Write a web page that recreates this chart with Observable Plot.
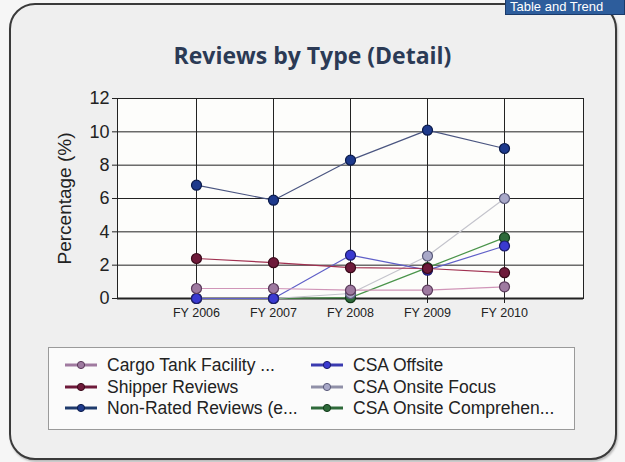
<!DOCTYPE html>
<html>
<head>
<meta charset="utf-8">
<script src="https://cdn.jsdelivr.net/npm/d3@7"></script>
<script src="https://cdn.jsdelivr.net/npm/@observablehq/plot@0.6"></script>
<style>
  html, body { margin: 0; padding: 0; background: #f6f6f6; }
  body { width: 625px; height: 462px; position: relative; overflow: hidden; font-family: "Liberation Sans", Arial, sans-serif; }
  #panel { position: absolute; left: 9px; top: 3px; width: 604px; height: 453px; border: 2px solid #3a3a3a; border-radius: 26px; background: #efefef; box-shadow: 1px 2px 2px #bbb; }
  #tab { position: absolute; left: 505px; top: 0px; width: 114px; height: 14px; background: #2d5d9c; border: 1px solid #1a3a6a; border-top: none; color: #fff; font-size: 13px; line-height: 14px; padding-left: 4px; white-space: nowrap; overflow: hidden; }
  #title { position: absolute; left: 0; width: 625px; top: 39px; text-align: center; font-family: "Open Sans", "DejaVu Sans", sans-serif; font-weight: bold; font-size: 23px; line-height: 32px; color: #2b3a55; }
  #chart { position: absolute; left: 0; top: 88px; }
  #legend { position: absolute; left: 48px; top: 347px; width: 525px; height: 81px; border: 1px solid #9a9a9a; background: #fbfbfb; }
  .item { position: absolute; height: 20px; font-size: 17.5px; line-height: 20px; color: #222; white-space: nowrap; }
  .item svg { position: absolute; left: 0; top: 4px; }
  .item span { position: absolute; left: 42px; top: 0; }
  g[aria-label="y-axis label"] text { font-size: 19px; }
</style>
</head>
<body>
<div id="panel"></div>
<div id="tab">Table and Trend</div>
<div id="title">Reviews by Type (Detail)</div>
<div id="chart"></div>
<div id="legend"></div>
<script>
// ---- data ----
const years = ["FY 2006", "FY 2007", "FY 2008", "FY 2009", "FY 2010"];
const seriesNames = [
  "Cargo Tank Facility ...",
  "Shipper Reviews",
  "Non-Rated Reviews (e...",
  "CSA Offsite",
  "CSA Onsite Focus",
  "CSA Onsite Comprehen..."
];
const cargoTank      = [0.6, 0.6, 0.5, 0.5, 0.7];
const shipper        = [2.4, 2.15, 1.85, 1.8, 1.55];
const nonRated       = [6.8, 5.9, 8.3, 10.1, 9.0];
const csaOffsite     = [0.0, 0.0, 2.6, 1.7, 3.15];
const csaOnsiteFocus = [0.0, 0.0, 0.3, 2.55, 6.0];
const csaOnsiteComp  = [0.0, 0.0, 0.05, 1.85, 3.65];
const yTicks = [0, 2, 4, 6, 8, 10, 12];

// ---- styles ----
const lineColors = ["#d095b8", "#a03050", "#4a5580", "#6060c8", "#c4c4cc", "#4a944a"];
const dotFill    = ["#9e7aa0", "#6e1a3a", "#1e3a8c", "#3a3ad0", "#a8a8c8", "#2e6a3a"];
const dotStroke  = ["#5a3a5a", "#3a0a1a", "#0a1a4a", "#1a1a6a", "#5a5a7a", "#123a1a"];
const legendLine = ["#a07aa0", "#6e1a3a", "#1e3a6c", "#3a3ab0", "#9090a8", "#2e6a3a"];

const allSeries = [cargoTank, shipper, nonRated, csaOffsite, csaOnsiteFocus, csaOnsiteComp];
const rows = [];
allSeries.forEach((vals, i) => vals.forEach((v, j) => rows.push({series: seriesNames[i], idx: i, year: years[j], value: v})));

const drawOrder = [5, 4, 3, 0, 1, 2];
const marks = [
  Plot.frame({fill: "#fdfdfb", stroke: "none"}),
  Plot.gridY(yTicks, {stroke: "#222", strokeOpacity: 1, strokeWidth: 1}),
  Plot.gridX(years, {stroke: "#222", strokeOpacity: 1, strokeWidth: 1}),
  Plot.frame({stroke: "#222", strokeWidth: 1}),
  Plot.axisY(yTicks, {tickSize: 5, fontSize: 18, tickPadding: 3, label: "Percentage (%)", labelAnchor: "center", labelArrow: "none", labelOffset: 60, color: "#222"}),
  Plot.axisX(years, {tickSize: 5, fontSize: 12.5, tickPadding: 5, label: null, color: "#222"}),
  Plot.ruleY([0], {stroke: "#222", strokeWidth: 2})
];
for (const i of drawOrder) {
  const d = rows.filter(r => r.idx === i);
  marks.push(Plot.line(d, {x: "year", y: "value", stroke: lineColors[i], strokeWidth: 1.2}));
}
for (const i of drawOrder) {
  const d = rows.filter(r => r.idx === i);
  marks.push(Plot.dot(d, {x: "year", y: "value", r: 5, fill: dotFill[i], stroke: dotStroke[i], strokeWidth: 1.2}));
}

const chart = Plot.plot({
  width: 625,
  height: 240,
  marginLeft: 117,
  marginRight: 42,
  marginTop: 10,
  marginBottom: 30,
  style: {background: "transparent", fontFamily: "'Liberation Sans', Arial, sans-serif", color: "#222"},
  x: {type: "point", domain: years, padding: 1},
  y: {domain: [0, 12]},
  marks
});
document.getElementById("chart").appendChild(chart);

// ---- legend ----
const legend = document.getElementById("legend");
const pos = [[16, 7], [16, 29], [16, 50], [262, 7], [262, 29], [262, 50]];
seriesNames.forEach((name, i) => {
  const it = document.createElement("div");
  it.className = "item";
  it.style.left = pos[i][0] + "px";
  it.style.top = pos[i][1] + "px";
  it.innerHTML = `<svg width="34" height="12"><line x1="0" y1="6" x2="32" y2="6" stroke="${legendLine[i]}" stroke-width="3"/><circle cx="16" cy="6" r="3.6" fill="${dotFill[i]}" stroke="${dotStroke[i]}" stroke-width="1"/></svg><span></span>`;
  it.querySelector("span").textContent = name;
  legend.appendChild(it);
});
</script>
</body>
</html>
